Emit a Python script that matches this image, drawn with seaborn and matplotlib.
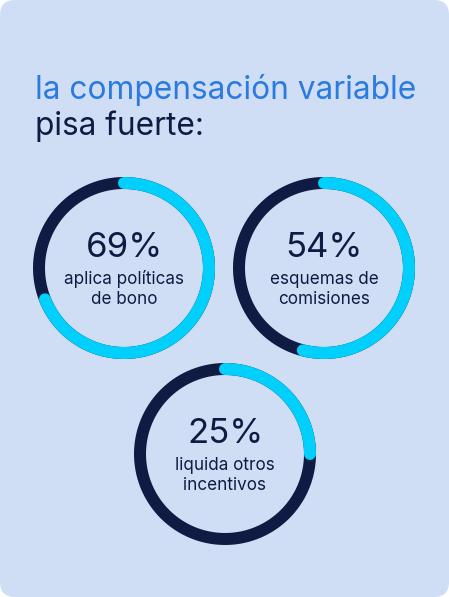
import matplotlib.pyplot as plt
import numpy as np
import pandas as pd
import seaborn as sns
from matplotlib.patches import FancyBboxPatch

# Data
percents = [69, 54, 25]
labels = ["aplica políticas\nde bono", "esquemas de\ncomisiones", "liquida otros\nincentivos"]
title1 = "la compensación variable"
title2 = "pisa fuerte:"

# Layout (pixels)
W, H = 449, 597
centers = [(124, 268), (324, 268), (225, 454)]
R = 85
navy = "#101b44"
cyan = "#00d0fb"
blue = "#2a7ae0"
bg = "#cfdef4"

sns.set_theme(style="white")
plt.rcParams['font.family'] = ['Inter', 'DejaVu Sans']

fig = plt.figure(figsize=(W / 100, H / 100), dpi=100)
fig.patch.set_facecolor("white")
ax = fig.add_axes([0, 0, 1, 1])
ax.set_xlim(0, W)
ax.set_ylim(H, 0)
ax.set_aspect('equal')
ax.axis('off')

card = FancyBboxPatch((15, 15), W - 30, H - 30, boxstyle="round,pad=15",
                      facecolor=bg, edgecolor="none")
ax.add_patch(card)

ax.text(35, 99, title1, color=blue, fontsize=22.8, va='baseline', ha='left')
ax.text(35, 135, title2, color=navy, fontsize=22.8, va='baseline', ha='left')

lw = 12 * 0.72
for (cx, cy), p, lab in zip(centers, percents, labels):
    t = np.linspace(0, 2 * np.pi, 400)
    ring = pd.DataFrame({"x": cx + R * np.sin(t), "y": cy - R * np.cos(t)})
    sns.lineplot(data=ring, x="x", y="y", sort=False, estimator=None,
                 color=navy, linewidth=lw, ax=ax)
    t2 = np.linspace(0, 2 * np.pi * p / 100, 300)
    arc = pd.DataFrame({"x": cx + R * np.sin(t2), "y": cy - R * np.cos(t2)})
    sns.lineplot(data=arc, x="x", y="y", sort=False, estimator=None,
                 color=cyan, linewidth=lw, solid_capstyle='round', ax=ax)
    ax.text(cx, cy - 11, f"{p}%", color=navy, fontsize=25, ha='center', va='baseline')
    l1, l2 = lab.split("\n")
    ax.text(cx, cy + 16, l1, color=navy, fontsize=12.3, ha='center', va='baseline')
    ax.text(cx, cy + 36, l2, color=navy, fontsize=12.3, ha='center', va='baseline')

ax.set_xlim(0, W)
ax.set_ylim(H, 0)
ax.set_xlabel("")
ax.set_ylabel("")
plt.savefig("out.png", dpi=100, facecolor="white")
plt.close('all')
